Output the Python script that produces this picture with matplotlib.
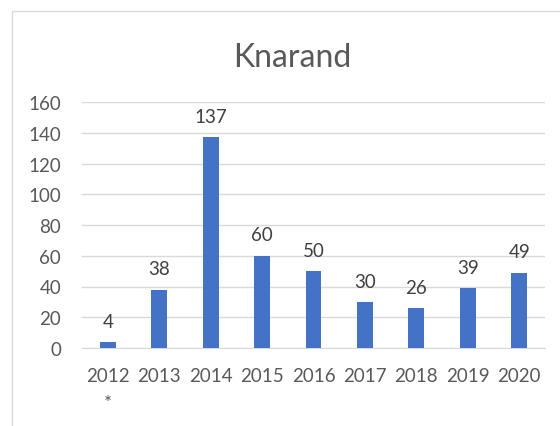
import matplotlib.pyplot as plt
from matplotlib.patches import Rectangle

years = ['2012\n*', '2013', '2014', '2015', '2016', '2017', '2018', '2019', '2020']
values = [4, 38, 137, 60, 50, 30, 26, 39, 49]
title = 'Knarand'

plt.rcParams['font.family'] = ['Lato', 'DejaVu Sans']

W, H = 560, 427
fig = plt.figure(figsize=(W / 100, H / 100), dpi=100)

# chart frame (cropped at right and bottom)
fig.patches.append(Rectangle((12 / W, -0.1), 1.2, 1 - 12 / H + 0.1,
                             transform=fig.transFigure, fill=False,
                             edgecolor='#d9d9d9', linewidth=1.0))

ax = fig.add_axes([82 / W, 1 - 349 / H, (545 - 82) / W, (349 - 103) / H])
x = range(len(years))
bars = ax.bar(x, values, width=0.31, color='#4472C4', zorder=3)
ax.set_xlim(-0.5, len(years) - 0.5)
ax.set_ylim(0, 160)
ax.set_yticks(range(0, 161, 20))
ax.set_xticks(list(x))
ax.set_xticklabels(years, linespacing=1.65)
ax.grid(axis='y', color='#d9d9d9', linewidth=1.0, zorder=0)
for s in ['top', 'right', 'left']:
    ax.spines[s].set_visible(False)
ax.spines['bottom'].set_color('#d9d9d9')
ax.tick_params(length=0, labelsize=13.5, colors='#595959')
ax.tick_params(axis='y', pad=15)
ax.tick_params(axis='x', pad=14)

for b, v in zip(bars, values):
    ax.annotate(str(v), (b.get_x() + b.get_width() / 2, v),
                xytext=(0, 11), textcoords='offset points',
                ha='center', va='baseline', fontsize=13.5, color='#404040',
                annotation_clip=False)

fig.text(292 / W, 1 - 58 / H, title, ha='center', va='center',
         fontsize=23, color='#595959')

fig.savefig('out.png', dpi=100)
